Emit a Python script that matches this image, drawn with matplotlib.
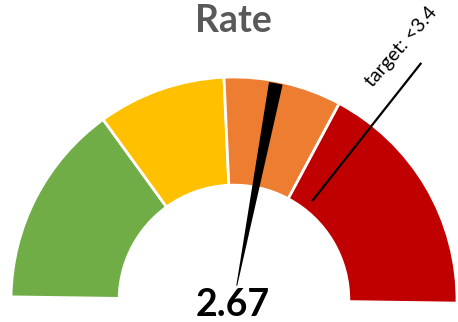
import numpy as np
from matplotlib import pyplot as plt
from matplotlib.patches import Wedge

plt.rcParams['font.family'] = ['Lato', 'DejaVu Sans']

# gauge bands (upper bounds) and colours
band_edges = [0, 1.42, 2.31, 3.13, 4.8]
band_colors = ['#70AD47', '#FFC000', '#ED7D31', '#C00000']
value = 2.67
target = 3.4
title = 'Rate'
target_label = 'target: <3.4'

vmin, vmax = band_edges[0], band_edges[-1]
start_ang = 179.2  # gauge sits slightly tilted
r_out, r_in = 1.0, 0.515


def val2ang(v):
    return start_ang - (v - vmin) / (vmax - vmin) * 180.0


fig = plt.figure(figsize=(4.58, 3.22), dpi=100)
ax = fig.add_axes([0, 0, 1, 1])
px = 223.0
ax.set_xlim(-234 / px, 224 / px)
ax.set_ylim(-22 / px, 300 / px)
ax.axis('off')

for lo, hi, c in zip(band_edges[:-1], band_edges[1:], band_colors):
    w = Wedge((0, 0), r_out, val2ang(hi), val2ang(lo), width=r_out - r_in,
              facecolor=c, edgecolor='white', lw=2)
    ax.add_patch(w)

# needle
a = val2ang(value)
ax.add_patch(Wedge((0, 0), 0.99, a - 1.8, a + 1.8, width=0.925,
                   facecolor='black', edgecolor='none', zorder=5))

# target marker
t = np.deg2rad(val2ang(target))
ax.plot([0.57 * np.cos(t), 1.35 * np.cos(t)], [0.57 * np.sin(t), 1.35 * np.sin(t)],
        color='black', lw=1.6, zorder=6)
tl = np.deg2rad(val2ang(target) + 4.8)
ax.text(1.36 * np.cos(tl), 1.36 * np.sin(tl), target_label, rotation=49,
        rotation_mode='anchor', ha='center', va='center', fontsize=14, color='black')

fig.text(233 / 458, 1 - 32 / 322, title, ha='center', va='baseline',
         fontsize=27, fontweight='bold', color='#595959')
fig.text(233 / 458, 1 - 316 / 322, '%.2f' % value, ha='center', va='baseline',
         fontsize=27, fontweight='bold', color='black')

fig.savefig('out.png', dpi=100)
